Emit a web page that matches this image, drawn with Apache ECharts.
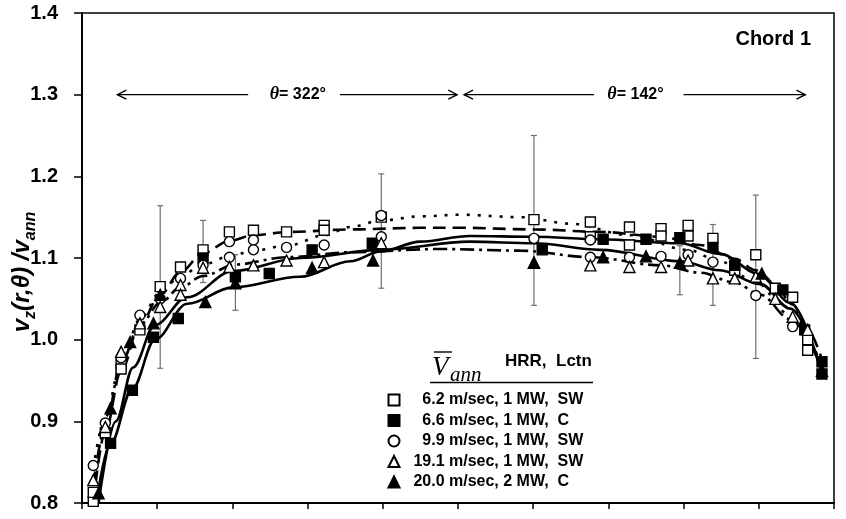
<!DOCTYPE html>
<html>
<head>
<meta charset="utf-8">
<script src="https://cdn.jsdelivr.net/npm/echarts@6/dist/echarts.min.js"></script>
<style>
  html, body { margin: 0; padding: 0; background: #fff; }
  #chart { width: 846px; height: 519px; }
</style>
</head>
<body>
<div id="chart"></div>
<script>
// Chord 1 velocity ratio v_z(r,θ)/v_ann along the chord (position 0–10 across the duct)

// Measured points: [position, ratio]
const sq62 = [[0.15,0.802],[0.15,0.813],[0.31,0.886],[0.52,0.970],[0.52,0.964],[0.77,1.012],[1.04,1.065],[1.31,1.089],[1.61,1.110],[1.96,1.132],[2.28,1.134],[2.72,1.132],[3.22,1.140],[3.22,1.134],[3.98,1.150],[6.01,1.147],[6.76,1.144],[6.76,1.126],[7.28,1.138],[7.28,1.116],[7.70,1.136],[7.70,1.127],[8.06,1.140],[8.06,1.127],[8.39,1.124],[8.68,1.085],[8.96,1.104],[9.22,1.063],[9.45,1.052],[9.65,1.000],[9.65,0.987]];
const fsq66 = [[0.38,0.873],[0.67,0.938],[0.95,1.003],[1.28,1.026],[1.61,1.100],[2.04,1.077],[2.49,1.081],[3.06,1.110],[3.86,1.118],[6.12,1.110],[6.93,1.123],[7.50,1.123],[7.95,1.125],[8.39,1.113],[8.68,1.091],[9.32,1.061],[9.61,1.012],[9.84,0.973],[9.84,0.958]];
const circ99 = [[0.15,0.846],[0.31,0.898],[0.52,0.978],[0.77,1.030],[1.04,1.050],[1.31,1.075],[1.61,1.091],[1.96,1.120],[1.96,1.101],[2.28,1.122],[2.28,1.110],[2.72,1.113],[3.22,1.116],[3.98,1.152],[3.98,1.126],[6.01,1.124],[6.76,1.122],[6.76,1.101],[7.28,1.101],[7.70,1.102],[8.06,1.104],[8.39,1.095],[8.96,1.054],[9.45,1.016]];
const tri191 = [[0.15,0.828],[0.31,0.893],[0.52,0.985],[0.77,1.020],[1.04,1.040],[1.31,1.067],[1.31,1.055],[1.61,1.088],[1.96,1.089],[2.28,1.091],[2.72,1.097],[3.22,1.095],[3.98,1.118],[6.01,1.094],[6.76,1.091],[7.28,1.089],[7.70,1.089],[8.06,1.097],[8.39,1.075],[8.68,1.075],[8.96,1.077],[9.22,1.050],[9.45,1.028],[9.65,1.012]];
const ftri20 = [[0.22,0.812],[0.38,0.916],[0.64,0.997],[0.95,1.020],[1.04,1.055],[1.64,1.046],[2.04,1.069],[3.06,1.088],[3.87,1.097],[6.01,1.094],[6.93,1.101],[7.50,1.102],[7.95,1.094],[9.04,1.081],[9.84,0.962]];

// Trend curves through each data set: [position, ratio]
const fit62 = [[0.15,0.800],[0.31,0.888],[0.52,0.962],[0.77,1.018],[1.04,1.055],[1.31,1.083],[1.61,1.106],[1.96,1.121],[2.28,1.128],[2.77,1.132],[3.57,1.135],[4.50,1.137],[5.03,1.137],[6.01,1.135],[6.89,1.132],[7.70,1.126],[8.22,1.116],[8.68,1.099],[8.96,1.085],[9.22,1.066],[9.45,1.043],[9.65,1.012],[9.84,0.975]];
const fit66 = [[0.19,0.800],[0.38,0.873],[0.67,0.940],[0.97,1.000],[1.40,1.044],[2.01,1.064],[2.90,1.077],[3.57,1.096],[3.97,1.108],[4.50,1.120],[5.16,1.127],[6.01,1.126],[6.89,1.123],[7.95,1.118],[8.48,1.105],[9.02,1.080],[9.42,1.045],[9.84,0.960]];
const fit99 = [[0.15,0.842],[0.31,0.905],[0.52,0.972],[0.77,1.025],[1.04,1.058],[1.31,1.078],[1.61,1.092],[1.96,1.102],[2.28,1.109],[2.77,1.116],[3.22,1.128],[3.57,1.138],[3.98,1.146],[4.50,1.151],[5.03,1.153],[5.83,1.150],[6.50,1.142],[7.28,1.128],[8.06,1.110],[8.48,1.096],[8.96,1.070],[9.42,1.030],[9.84,0.968]];
const fit191 = [[0.15,0.822],[0.31,0.893],[0.52,0.972],[0.77,1.018],[1.04,1.045],[1.31,1.064],[1.61,1.078],[2.04,1.092],[2.72,1.101],[3.57,1.107],[4.76,1.111],[5.83,1.109],[6.76,1.101],[7.70,1.091],[8.22,1.082],[8.68,1.070],[9.02,1.055],[9.42,1.025],[9.84,0.965]];
const fit20 = [[0.22,0.800],[0.45,0.900],[0.68,0.966],[0.97,1.018],[1.40,1.052],[2.01,1.084],[2.90,1.100],[3.97,1.110],[5.16,1.120],[6.01,1.118],[6.89,1.110],[7.95,1.096],[8.48,1.085],[9.02,1.068],[9.42,1.038],[9.84,0.960]];

// Uncertainty bars: [position, low, high]
const errBars = [[1.04,0.965,1.164],[1.61,1.070,1.146],[2.04,1.036,1.104],[3.98,1.063,1.203],[6.01,1.042,1.250],[7.95,1.055,1.115],[8.39,1.042,1.141],[8.96,0.977,1.177]];

// Angular sectors marked above the data: [from, to (arrow head), level]
const sectorArrows = [[2.21,0.47,1.3],[3.43,4.99,1.3],[6.81,5.08,1.3],[8.00,9.62,1.3]];
const sectorLabels = ['θ= 322°', 'θ= 142°'];
const sectorLabelSpots = [[2.87,1.3],[7.36,1.3]];

const seriesNames = ['6.2 m/sec, 1 MW,  SW', '6.6 m/sec, 1 MW,  C', '9.9 m/sec, 1 MW,  SW', '19.1 m/sec, 1 MW,  SW', '20.0 m/sec, 2 MW,  C'];
const yTicks = { min: 0.8, max: 1.4, step: 0.1 };

const SANS = 'Liberation Sans';
const SERIF = 'Liberation Serif';
const FIG = '\u2007';

function markers(name, data, symbol, filled, size) {
  return {
    type: 'scatter', name: name, data: data, symbol: symbol, symbolSize: size, z: 5,
    symbolKeepAspect: true,
    itemStyle: { color: filled ? '#000' : '#fff', borderColor: '#000', borderWidth: 1.4, opacity: 1 }
  };
}
function trend(data, dash) {
  return {
    type: 'line', data: data, symbol: 'none', smooth: 0.35, smoothMonotone: 'x', z: 3,
    silent: true, legendHoverLink: false,
    lineStyle: { color: '#000', width: 2.6, type: dash, cap: 'butt' }
  };
}

const chart = echarts.init(document.getElementById('chart'), null, { renderer: 'canvas' });

chart.setOption({
  animation: false,
  backgroundColor: '#fff',
  title: {
    text: 'Chord 1', right: 35, top: 29, padding: 0,
    textStyle: { fontFamily: SANS, fontSize: 20, fontWeight: 'bold', color: '#000' }
  },
  grid: { left: 82, right: 12, top: 13, bottom: 16, containLabel: false, outerBoundsMode: 'none',
          show: true, borderColor: '#000', borderWidth: 1.5, backgroundColor: 'transparent' },
  xAxis: {
    type: 'value', min: 0, max: 10, interval: 1,
    axisLine: { show: true, lineStyle: { color: '#000', width: 2 } },
    axisTick: { show: true, length: 6, lineStyle: { color: '#000', width: 1.5 } },
    axisLabel: { show: false },
    splitLine: { show: false }
  },
  yAxis: {
    type: 'value', min: yTicks.min, max: yTicks.max, interval: yTicks.step,
    axisLine: { show: true, lineStyle: { color: '#000', width: 2 } },
    axisTick: { show: true, length: 8, lineStyle: { color: '#000', width: 1.5 } },
    axisLabel: { margin: 24, color: '#000', fontFamily: SANS, fontSize: 20, fontWeight: 'bold',
                 formatter: v => v.toFixed(1) },
    splitLine: { show: false }
  },
  legend: {
    data: seriesNames, orient: 'vertical', left: 387.5, top: 392, padding: 0,
    itemWidth: 11, itemHeight: 11, itemGap: 4.5, selectedMode: false,
    textStyle: { fontFamily: SANS, fontSize: 16, fontWeight: 'bold', color: '#000', lineHeight: 16 },
    // numbers are right-aligned in the list
    formatter: name => FIG + (/^\d\./.test(name) ? FIG : '') + name
  },
  graphic: [
    { type: 'text', x: 27, y: 272, rotation: Math.PI / 2, z: 10,
      style: {
        text: '{m|v}{s|z}{m|(r,θ) /v}{s|ann}',
        align: 'center', verticalAlign: 'middle', fill: '#000',
        rich: {
          m: { fontFamily: SANS, fontStyle: 'italic', fontWeight: 'bold', fontSize: 24, lineHeight: 24, padding: [0, 0, 5, 0], verticalAlign: 'bottom' },
          s: { fontFamily: SANS, fontStyle: 'italic', fontWeight: 'bold', fontSize: 16, lineHeight: 16, verticalAlign: 'bottom' }
        }
      } },
    // legend header: V̄ann   HRR,  Lctn
    { type: 'text', x: 432, y: 381, z: 10,
      style: { text: 'V', font: 'italic 27px "' + SERIF + '"', fill: '#000', verticalAlign: 'bottom' } },
    { type: 'line', z: 10, shape: { x1: 434, y1: 352, x2: 452, y2: 352 }, style: { stroke: '#000', lineWidth: 1.4 } },
    { type: 'text', x: 450, y: 386, z: 10,
      style: { text: 'ann', font: 'italic 21px "' + SERIF + '"', fill: '#000', verticalAlign: 'bottom' } },
    { type: 'text', x: 505, y: 361, z: 10,
      style: { text: 'HRR,  Lctn', font: 'bold 17px "' + SANS + '"', fill: '#000', verticalAlign: 'middle' } },
    { type: 'line', z: 10, shape: { x1: 430, y1: 382.5, x2: 593, y2: 382.5 }, style: { stroke: '#000', lineWidth: 1.3 } }
  ],
  series: [
    {
      type: 'custom', name: 'bars', data: errBars, z: 1, silent: true,
      encode: { x: 0, y: [1, 2] },
      renderItem: function (params, api) {
        const lo = api.coord([api.value(0), api.value(1)]);
        const hi = api.coord([api.value(0), api.value(2)]);
        const st = { stroke: '#6f6f6f', lineWidth: 1.2 };
        return { type: 'group', children: [
          { type: 'line', shape: { x1: lo[0], y1: lo[1], x2: hi[0], y2: hi[1] }, style: st },
          { type: 'line', shape: { x1: hi[0] - 3, y1: hi[1], x2: hi[0] + 3, y2: hi[1] }, style: st },
          { type: 'line', shape: { x1: lo[0] - 3, y1: lo[1], x2: lo[0] + 3, y2: lo[1] }, style: st }
        ] };
      }
    },
    trend(fit62, [13, 7]),
    trend(fit66, 'solid'),
    trend(fit99, [3, 8]),
    trend(fit191, [14, 5, 3, 5]),
    trend(fit20, 'solid'),
    markers(seriesNames[0], sq62, 'rect', false, 10),
    markers(seriesNames[1], fsq66, 'rect', true, 10),
    markers(seriesNames[2], circ99, 'circle', false, 10),
    markers(seriesNames[3], tri191, 'triangle', false, 11),
    markers(seriesNames[4], ftri20, 'triangle', true, 11),
    {
      type: 'custom', name: 'sectors', data: sectorArrows, z: 6, silent: true,
      encode: { x: [0, 1], y: 2 },
      renderItem: function (params, api) {
        const a = api.coord([api.value(0), api.value(2)]);
        const b = api.coord([api.value(1), api.value(2)]);
        const d = b[0] > a[0] ? 1 : -1;
        const st = { stroke: '#000', lineWidth: 1.3, fill: null };
        return { type: 'group', children: [
          { type: 'line', shape: { x1: a[0], y1: a[1], x2: b[0], y2: b[1] }, style: st },
          { type: 'polyline', shape: { points: [[b[0] - d * 9, b[1] - 4.5], [b[0], b[1]], [b[0] - d * 9, b[1] + 4.5]] }, style: st }
        ] };
      }
    },
    {
      type: 'custom', name: 'sectorText', data: sectorLabelSpots, z: 6, silent: true,
      renderItem: function (params, api) {
        const p = api.coord([api.value(0), api.value(1)]);
        const s = sectorLabels[params.dataIndex];
        return { type: 'text', x: p[0], y: p[1],
          style: {
            text: '{t|' + s.slice(0, 1) + '}{n|' + s.slice(1) + '}',
            align: 'center', verticalAlign: 'middle', fill: '#000',
            rich: {
              t: { fontFamily: SERIF, fontStyle: 'italic', fontWeight: 'bold', fontSize: 18 },
              n: { fontFamily: SANS, fontWeight: 'bold', fontSize: 16 }
            }
          } };
      }
    }
  ]
});
</script>
</body>
</html>
